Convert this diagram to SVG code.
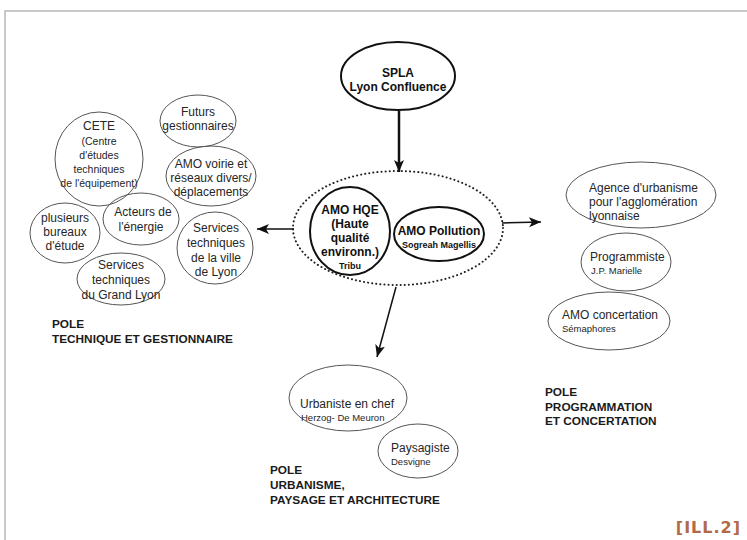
<svg xmlns="http://www.w3.org/2000/svg" width="747" height="540" viewBox="0 0 747 540">
<style>
.t{font-family:"Liberation Sans",Arial,sans-serif;fill:#262626;text-anchor:middle}
.n{font-size:12px}
.s{font-size:10.5px}
.b{font-weight:bold;fill:#111}
.lb{font-family:"Liberation Sans",Arial,sans-serif;font-weight:bold;font-size:11.8px;fill:#1a1a1a}
.thin{fill:none;stroke:#555;stroke-width:1}
.thick{fill:none;stroke:#111;stroke-width:2}
.arr{stroke:#111;stroke-width:1.5;fill:none}
</style>
<defs>
<marker id="ah" markerUnits="userSpaceOnUse" markerWidth="14" markerHeight="12" refX="12" refY="5" orient="auto">
<path d="M0,0 L12,5 L0,10 L3,5 Z" fill="#111"/>
</marker>
</defs>
<rect width="747" height="540" fill="#fff"/>
<path d="M5,540 V11 H747" fill="none" stroke="#b8b8b8" stroke-width="1.5"/>

<g id="connectors">
<line x1="399" y1="111" x2="399" y2="172" stroke="#111" stroke-width="2.5" marker-end="url(#ah)"/>
<line x1="294" y1="229" x2="257" y2="229" class="arr" marker-end="url(#ah)"/>
<line x1="502" y1="223" x2="541" y2="222" class="arr" marker-end="url(#ah)"/>
<line x1="396" y1="287" x2="377" y2="357" class="arr" marker-end="url(#ah)"/>
</g>

<g id="spla">
<ellipse cx="398" cy="76" rx="57" ry="34" class="thick" stroke-width="2.5"/>
<text class="t b n" x="398" y="77">SPLA</text>
<text class="t b n" x="398" y="91">Lyon Confluence</text>
</g>

<g id="center-group">
<ellipse cx="398" cy="228" rx="105" ry="57" fill="none" stroke="#222" stroke-width="2" stroke-dasharray="0.1 4" stroke-linecap="round"/>
</g>
<g id="amo-hqe">
<ellipse cx="350" cy="231" rx="40" ry="44" class="thick"/>
<text class="t b n" x="350" y="214">AMO HQE</text>
<text class="t b n" x="350" y="228">(Haute</text>
<text class="t b n" x="350" y="242">qualité</text>
<text class="t b n" x="350" y="256">environn.)</text>
<text class="t b" x="350" y="269" font-size="9">Tribu</text>
</g>
<g id="amo-pollution">
<ellipse cx="439" cy="234" rx="45" ry="27" class="thick"/>
<text class="t b n" x="439" y="235">AMO Pollution</text>
<text class="t b" x="439" y="248" font-size="9">Sogreah Magellis</text>
</g>

<g id="cete">
<ellipse cx="99" cy="159" rx="44" ry="47" class="thin"/>
<text class="t n" x="99" y="130">CETE</text>
<text class="t s" x="99" y="145">(Centre</text>
<text class="t s" x="99" y="159">d'études</text>
<text class="t s" x="99" y="173">techniques</text>
<text class="t s" x="99" y="187">de l'équipement)</text>
</g>
<g id="futurs">
<ellipse cx="198" cy="121" rx="38" ry="26" class="thin"/>
<text class="t n" x="198" y="116">Futurs</text>
<text class="t n" x="198" y="130">gestionnaires</text>
</g>
<g id="amo-voirie">
<ellipse cx="211" cy="176" rx="45" ry="30" class="thin"/>
<text class="t n" x="211" y="168">AMO voirie et</text>
<text class="t n" x="211" y="182">réseaux divers/</text>
<text class="t n" x="211" y="196">déplacements</text>
</g>
<g id="bureaux">
<ellipse cx="65" cy="233" rx="35" ry="30" class="thin"/>
<text class="t n" x="65" y="222">plusieurs</text>
<text class="t n" x="65" y="236">bureaux</text>
<text class="t n" x="65" y="250">d'étude</text>
</g>
<g id="energie">
<ellipse cx="141" cy="219" rx="38" ry="26" class="thin"/>
<text class="t n" x="143" y="216">Acteurs de</text>
<text class="t n" x="141" y="231">l'énergie</text>
</g>
<g id="services-ville">
<ellipse cx="215" cy="248" rx="38" ry="36" class="thin"/>
<text class="t n" x="216" y="232">Services</text>
<text class="t n" x="216" y="247">techniques</text>
<text class="t n" x="216" y="262">de la ville</text>
<text class="t n" x="216" y="276">de Lyon</text>
</g>
<g id="services-grand-lyon">
<ellipse cx="121" cy="279" rx="44" ry="26" class="thin"/>
<text class="t n" x="121" y="269">Services</text>
<text class="t n" x="121" y="284">techniques</text>
<text class="t n" x="121" y="299">du Grand Lyon</text>
</g>
<g id="pole-technique">
<text class="lb" x="52" y="328">POLE</text>
<text class="lb" x="52" y="343">TECHNIQUE ET GESTIONNAIRE</text>
</g>

<g id="agence">
<ellipse cx="641" cy="195" rx="75" ry="33" class="thin"/>
<text class="t n" x="589" y="192" style="text-anchor:start">Agence d'urbanisme</text>
<text class="t n" x="589" y="206" style="text-anchor:start">pour l'agglomération</text>
<text class="t n" x="589" y="220" style="text-anchor:start">lyonnaise</text>
</g>
<g id="programmiste">
<ellipse cx="626" cy="262" rx="45" ry="29" class="thin"/>
<text class="t n" x="590" y="261" style="text-anchor:start">Programmiste</text>
<text class="t" x="591" y="274" font-size="9.5" style="text-anchor:start">J.P. Marielle</text>
</g>
<g id="concertation">
<ellipse cx="609" cy="321" rx="61" ry="29" class="thin"/>
<text class="t n" x="562" y="319" style="text-anchor:start">AMO concertation</text>
<text class="t" x="562" y="332" font-size="9.5" style="text-anchor:start">Sémaphores</text>
</g>
<g id="pole-programmation">
<text class="lb" x="545" y="396">POLE</text>
<text class="lb" x="545" y="411">PROGRAMMATION</text>
<text class="lb" x="545" y="425">ET CONCERTATION</text>
</g>

<g id="urbaniste">
<ellipse cx="348" cy="398" rx="59" ry="33" class="thin"/>
<text class="t n" x="300" y="408" style="text-anchor:start">Urbaniste en chef</text>
<text class="t" x="301" y="421" font-size="9.5" style="text-anchor:start">Herzog- De Meuron</text>
</g>
<g id="paysagiste">
<ellipse cx="418" cy="451" rx="40" ry="27" class="thin"/>
<text class="t n" x="391" y="452" style="text-anchor:start">Paysagiste</text>
<text class="t" x="391" y="465" font-size="9.5" style="text-anchor:start">Desvigne</text>
</g>
<g id="pole-urbanisme">
<text class="lb" x="270" y="474">POLE</text>
<text class="lb" x="270" y="489">URBANISME,</text>
<text class="lb" x="270" y="504">PAYSAGE ET ARCHITECTURE</text>
</g>

<text x="741" y="533" font-family="'DejaVu Sans',sans-serif" font-size="16" font-weight="bold" fill="#b26a48" text-anchor="end" letter-spacing="1">[ILL.2]</text>
</svg>
